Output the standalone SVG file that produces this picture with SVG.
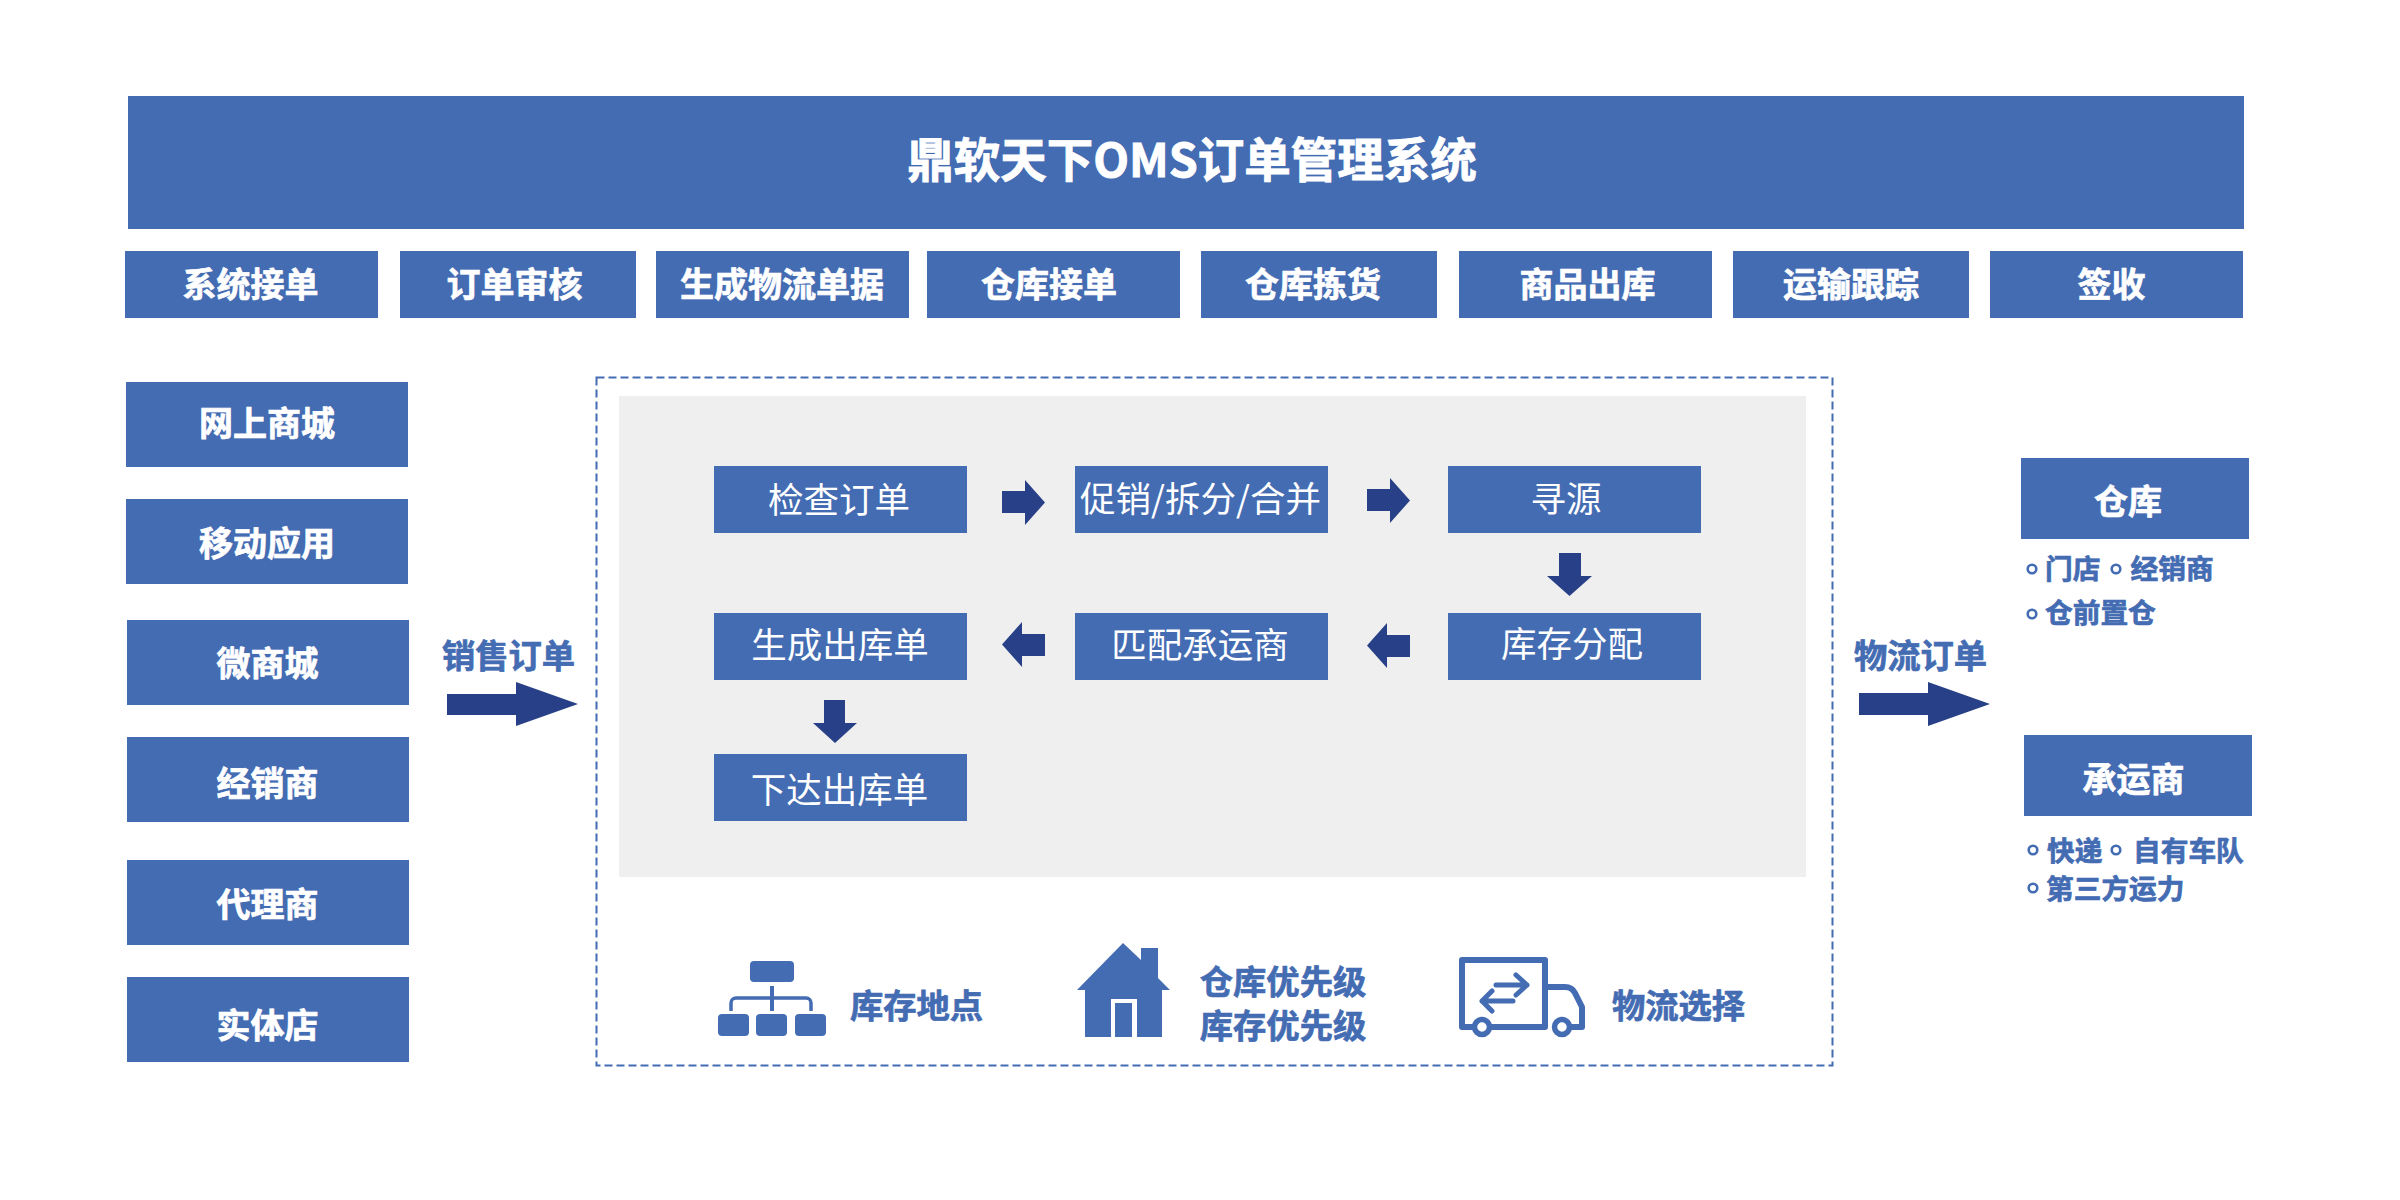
<svg xmlns="http://www.w3.org/2000/svg" width="2400" height="1200" viewBox="0 0 2400 1200">
<style>
.b{fill:#446CB3}
.a{fill:#284087}
text{font-family:"Noto Sans CJK SC","Noto Sans",sans-serif;text-anchor:middle}
.w{fill:#fff;stroke:#fff;stroke-width:.7;font-weight:700;font-size:34px}
.p{fill:#fff;font-weight:400;font-size:35.500px}
.t{fill:#446CB3;stroke:#446CB3;stroke-width:.7;font-weight:700;font-size:33.300px}
.s{fill:#446CB3;stroke:#446CB3;stroke-width:.7;font-weight:700;font-size:27.700px;text-anchor:start}
.o{fill:none;stroke:#446CB3;stroke-width:2.6}
.l{fill:none;stroke:#446CB3;stroke-linecap:round;stroke-linejoin:round}
</style>
<rect width="2400" height="1200" fill="#fff"/>
<g id="title"><rect class="b" x="128" y="96" width="2116" height="133"/><text class="w" x="1192" y="177" style="font-size:46.500px;stroke-width:.9">鼎软天下OMS订单管理系统</text></g>
<g id="step-1"><rect class="b" x="125" y="251" width="253" height="67"/><text class="w" x="250.500" y="297">系统接单</text></g>
<g id="step-2"><rect class="b" x="400" y="251" width="236" height="67"/><text class="w" x="514.500" y="297">订单审核</text></g>
<g id="step-3"><rect class="b" x="656" y="251" width="253" height="67"/><text class="w" x="782" y="297">生成物流单据</text></g>
<g id="step-4"><rect class="b" x="927" y="251" width="253" height="67"/><text class="w" x="1049" y="297">仓库接单</text></g>
<g id="step-5"><rect class="b" x="1201" y="251" width="236" height="67"/><text class="w" x="1313" y="297">仓库拣货</text></g>
<g id="step-6"><rect class="b" x="1459" y="251" width="253" height="67"/><text class="w" x="1587.500" y="297">商品出库</text></g>
<g id="step-7"><rect class="b" x="1733" y="251" width="236" height="67"/><text class="w" x="1851" y="297">运输跟踪</text></g>
<g id="step-8"><rect class="b" x="1990" y="251" width="253" height="67"/><text class="w" x="2111.500" y="297">签收</text></g>
<g id="source-1"><rect class="b" x="126" y="382" width="282" height="85"/><text class="w" x="267" y="436">网上商城</text></g>
<g id="source-2"><rect class="b" x="126" y="499" width="282" height="85"/><text class="w" x="267" y="556">移动应用</text></g>
<g id="source-3"><rect class="b" x="127" y="620" width="282" height="85"/><text class="w" x="267.500" y="676">微商城</text></g>
<g id="source-4"><rect class="b" x="127" y="737" width="282" height="85"/><text class="w" x="267.500" y="796">经销商</text></g>
<g id="source-5"><rect class="b" x="127" y="860" width="282" height="85"/><text class="w" x="267.500" y="917">代理商</text></g>
<g id="source-6"><rect class="b" x="127" y="977" width="282" height="85"/><text class="w" x="267.500" y="1038">实体店</text></g>
<g id="oms-frame"><rect x="596.500" y="377.500" width="1236" height="688" fill="#fff" stroke="#446CB3" stroke-width="2" stroke-dasharray="8 4"/><rect x="619" y="396" width="1187" height="481" fill="#EFEFEF"/></g>
<g id="check"><rect class="b" x="714" y="466" width="253" height="67"/><text class="p" x="839" y="513">检查订单</text></g>
<g id="promo"><rect class="b" x="1075" y="466" width="253" height="67"/><text class="p" x="1200.500" y="512">促销/拆分/合并</text></g>
<g id="sourcing"><rect class="b" x="1448" y="466" width="253" height="67"/><text class="p" x="1566" y="512">寻源</text></g>
<g id="allocate"><rect class="b" x="1448" y="613" width="253" height="67"/><text class="p" x="1572" y="657">库存分配</text></g>
<g id="carrier-match"><rect class="b" x="1075" y="613" width="253" height="67"/><text class="p" x="1200" y="658">匹配承运商</text></g>
<g id="generate"><rect class="b" x="714" y="613" width="253" height="67"/><text class="p" x="840" y="658">生成出库单</text></g>
<g id="issue"><rect class="b" x="714" y="754" width="253" height="67"/><text class="p" x="839.500" y="803">下达出库单</text></g>
<g id="connectors">
<polygon class="a" points="447,694 516,694 516,682 578,704 516,726 516,715 447,715"/>
<polygon class="a" points="1859,693 1928,693 1928,682 1990,704 1928,726 1928,715 1859,715"/>
<polygon class="a" points="1002,491 1025,491 1025,480 1045,502.500 1025,525 1025,513 1002,513"/>
<polygon class="a" points="1367,489 1390,489 1390,478 1410,500.500 1390,523 1390,511 1367,511"/>
<polygon class="a" points="1559,553 1581,553 1581,576 1592,576 1569.500,596 1547,576 1559,576"/>
<polygon class="a" points="1410,635 1387,635 1387,623 1367,645.500 1387,668 1387,657 1410,657"/>
<polygon class="a" points="1045,634 1022,634 1022,622 1002,644.500 1022,667 1022,656 1045,656"/>
<polygon class="a" points="824,700 845,700 845,723 857,723 835,743 813,723 824,723"/>
</g>
<g id="label-sales"><text class="t" x="508.500" y="668">销售订单</text></g>
<g id="label-logistics"><text class="t" x="1920.500" y="668">物流订单</text></g>
<g id="warehouse"><rect class="b" x="2021" y="458" width="228" height="81"/><text class="w" x="2128" y="514">仓库</text></g>
<g id="warehouse-list">
<circle class="o" cx="2032" cy="569" r="4.300"/><text class="s" x="2045" y="579">门店</text>
<circle class="o" cx="2116" cy="569" r="4.300"/><text class="s" x="2130.500" y="579">经销商</text>
<circle class="o" cx="2032" cy="614" r="4.300"/><text class="s" x="2045" y="623">仓前置仓</text>
</g>
<g id="carrier"><rect class="b" x="2024" y="735" width="228" height="81"/><text class="w" x="2133.500" y="792">承运商</text></g>
<g id="carrier-list">
<circle class="o" cx="2033" cy="850" r="4.300"/><text class="s" x="2047" y="861">快递</text>
<circle class="o" cx="2116" cy="850" r="4.300"/><text class="s" x="2133" y="861">自有车队</text>
<circle class="o" cx="2033" cy="888" r="4.300"/><text class="s" x="2046" y="899">第三方运力</text>
</g>
<g id="inventory-location">
<rect class="b" x="750" y="961" width="44" height="21" rx="4"/>
<path class="l" d="M772 986V1011" stroke-width="4" style="stroke-linecap:butt"/>
<path class="l" d="M731 1011V1003a5 5 0 0 1 5-5H806a5 5 0 0 1 5 5V1011" stroke-width="3.500" style="stroke-linecap:butt"/>
<rect class="b" x="718" y="1014" width="31" height="22" rx="4"/>
<rect class="b" x="756" y="1014" width="31" height="22" rx="4"/>
<rect class="b" x="795" y="1014" width="31" height="22" rx="4"/>
<text class="t" x="916.500" y="1018">库存地点</text>
</g>
<g id="priority">
<path class="b" d="M1123 943L1141 960V948H1158V978L1170 990H1162V1037H1137V999H1111V1037H1085V990H1077Z"/>
<rect class="b" x="1115" y="1003" width="17" height="34"/>
<text class="t" x="1283" y="994">仓库优先级</text>
<text class="t" x="1283" y="1038">库存优先级</text>
</g>
<g id="logistics-choice">
<path class="l" stroke-width="6" d="M1545 1027H1462V960H1545ZM1545 987H1565Q1572 987 1575 993L1582 1007V1027H1570"/>
<path class="l" stroke-width="5" d="M1496 985H1527M1516 975L1527 985L1516 995M1513 1001H1482M1492 991L1482 1001L1492 1011"/>
<circle cx="1482" cy="1027" r="7.500" fill="#fff" stroke="#446CB3" stroke-width="5.500"/>
<circle cx="1562" cy="1027" r="7.500" fill="#fff" stroke="#446CB3" stroke-width="5.500"/>
<text class="t" x="1678.500" y="1018">物流选择</text>
</g>
</svg>
